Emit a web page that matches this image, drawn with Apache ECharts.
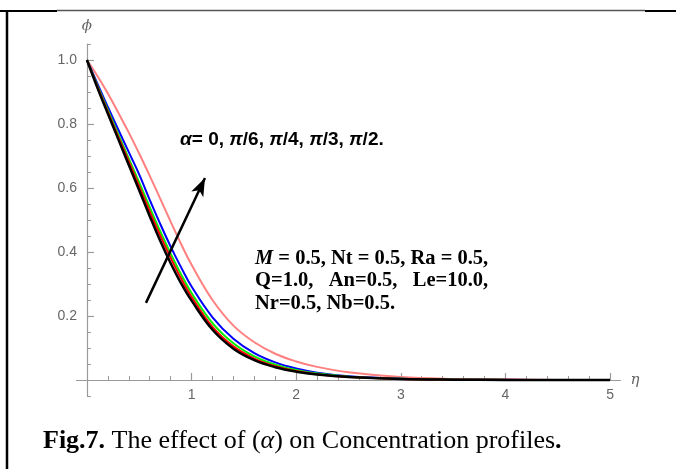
<!DOCTYPE html>
<html>
<head>
<meta charset="utf-8">
<script src="https://cdn.jsdelivr.net/npm/echarts@6/dist/echarts.min.js"></script>
<style>
  html, body { margin: 0; padding: 0; background: #fff; }
  #chart { width: 676px; height: 469px; }
</style>
</head>
<body>
<div id="chart"></div>
<script>
// Similarity variable eta and concentration profiles phi(eta) for each inclination alpha
const eta = [0, 0.1, 0.2, 0.3, 0.4, 0.5, 0.6, 0.7, 0.8, 0.9, 1.0, 1.2, 1.4, 1.6, 1.8, 2.0, 2.2, 2.5, 3.0, 3.5, 4.0, 4.5, 5.0];
const phiAlpha0   = [1.0, 0.913, 0.832, 0.752, 0.672, 0.592, 0.512, 0.435, 0.365, 0.302, 0.248, 0.157, 0.098, 0.062, 0.04, 0.026, 0.017, 0.009, 0.003, 0.001, 0.0003, 0.0001, 0];
const phiAlphaPi6 = [1.0, 0.917, 0.838, 0.76, 0.683, 0.605, 0.527, 0.452, 0.382, 0.317, 0.26, 0.166, 0.105, 0.067, 0.043, 0.028, 0.018, 0.0095, 0.0033, 0.0011, 0.0004, 0.0001, 0];
const phiAlphaPi4 = [1.0, 0.92, 0.843, 0.767, 0.692, 0.617, 0.54, 0.465, 0.395, 0.33, 0.272, 0.178, 0.115, 0.074, 0.048, 0.031, 0.02, 0.0105, 0.0036, 0.0012, 0.0004, 0.0001, 0];
const phiAlphaPi3 = [1.0, 0.926, 0.853, 0.782, 0.712, 0.642, 0.563, 0.488, 0.417, 0.352, 0.292, 0.196, 0.129, 0.084, 0.055, 0.036, 0.023, 0.012, 0.0042, 0.0014, 0.0005, 0.0001, 0];
const phiAlphaPi2 = [1.0, 0.95, 0.895, 0.835, 0.773, 0.707, 0.638, 0.567, 0.495, 0.425, 0.36, 0.25, 0.17, 0.118, 0.082, 0.058, 0.041, 0.024, 0.009, 0.003, 0.001, 0.0003, 0];

// Tick values
const xMajorTicks = [1, 2, 3, 4, 5];
const xMinorTicks = [0.2, 0.4, 0.6, 0.8, 1.2, 1.4, 1.6, 1.8, 2.2, 2.4, 2.6, 2.8, 3.2, 3.4, 3.6, 3.8, 4.2, 4.4, 4.6, 4.8];
const yMajorTicks = [0.2, 0.4, 0.6, 0.8, 1.0];
const yMinorTicks = [-0.05, 0.05, 0.1, 0.15, 0.25, 0.3, 0.35, 0.45, 0.5, 0.55, 0.65, 0.7, 0.75, 0.85, 0.9, 0.95, 1.05];

// Arrow showing the direction of increasing alpha (eta, phi)
const arrowFrom = [0.564, 0.241];
const arrowTo = [1.128, 0.631];

const profiles = [
  { name: 'α = π/2', data: phiAlphaPi2, color: '#ff8080', width: 2 },
  { name: 'α = π/3', data: phiAlphaPi3, color: '#0000ff', width: 2 },
  { name: 'α = π/4', data: phiAlphaPi4, color: '#00f000', width: 2 },
  { name: 'α = π/6', data: phiAlphaPi6, color: '#ff0000', width: 2 },
  { name: 'α = 0',   data: phiAlpha0,   color: '#000000', width: 2.5 }
];

const axisGray = '#9a9a9a';
const labelGray = '#666';

const chart = echarts.init(document.getElementById('chart'), null, { renderer: 'canvas' });

const series = profiles.map(p => ({
  name: p.name,
  type: 'line',
  xAxisIndex: 0,
  yAxisIndex: 0,
  smooth: 0.4,
  showSymbol: false,
  symbol: 'none',
  lineStyle: { color: p.color, width: p.width },
  data: eta.map((e, i) => [e, p.data[i]]),
  z: 3
}));

series.push({
  type: 'line',
  xAxisIndex: 0,
  yAxisIndex: 0,
  data: [],
  markLine: {
    silent: true,
    animation: false,
    label: { show: false },
    lineStyle: { color: '#000', width: 2.5, type: 'solid' },
    symbolSize: [10, 18],
    data: [[
      { coord: arrowFrom, symbol: 'none' },
      { coord: arrowTo, symbol: 'arrow' }
    ]]
  }
});

chart.setOption({
  animation: false,
  backgroundColor: '#fff',
  grid: { left: 76.5, right: 55.5, top: 44, bottom: 73, containLabel: false },
  xAxis: [
    {
      type: 'value', min: -0.1, max: 5.1, position: 'bottom',
      name: 'η', nameLocation: 'end', nameGap: 10,
      nameTextStyle: { color: labelGray, fontStyle: 'italic', fontSize: 15, fontFamily: 'DejaVu Serif' },
      axisLine: { onZero: true, onZeroAxisIndex: 0, lineStyle: { color: axisGray, width: 1.2 } },
      axisTick: { inside: true, length: 7, customValues: xMajorTicks, lineStyle: { color: axisGray, width: 1.2 } },
      axisLabel: { customValues: xMajorTicks, margin: -8, color: labelGray, fontSize: 14, fontFamily: 'Liberation Sans' },
      splitLine: { show: false }
    },
    {
      type: 'value', min: -0.1, max: 5.1, position: 'bottom',
      axisLine: { show: false, onZero: true, onZeroAxisIndex: 0 },
      axisTick: { inside: true, length: 4, customValues: xMinorTicks, lineStyle: { color: axisGray, width: 1 } },
      axisLabel: { show: false },
      splitLine: { show: false }
    }
  ],
  yAxis: [
    {
      type: 'value', min: -0.05, max: 1.05, position: 'left',
      name: 'ϕ', nameLocation: 'end', nameGap: 10,
      nameTextStyle: { color: labelGray, fontStyle: 'italic', fontSize: 15, fontFamily: 'DejaVu Serif' },
      axisLine: { onZero: true, onZeroAxisIndex: 0, lineStyle: { color: axisGray, width: 1.2 } },
      axisTick: { inside: true, length: 7, customValues: yMajorTicks, lineStyle: { color: axisGray, width: 1.2 } },
      axisLabel: { customValues: yMajorTicks, margin: -0.5, color: labelGray, fontSize: 14, fontFamily: 'Liberation Sans',
                   formatter: v => v.toFixed(1) },
      splitLine: { show: false }
    },
    {
      type: 'value', min: -0.05, max: 1.05, position: 'left',
      axisLine: { show: false, onZero: true, onZeroAxisIndex: 0 },
      axisTick: { inside: true, length: 4, customValues: yMinorTicks, lineStyle: { color: axisGray, width: 1 } },
      axisLabel: { show: false },
      splitLine: { show: false }
    }
  ],
  series: series,
  graphic: [
    // frame lines
    { type: 'line', shape: { x1: 0, y1: 11, x2: 57, y2: 11 }, style: { stroke: '#000', lineWidth: 2 } },
    { type: 'line', shape: { x1: 57, y1: 10.5, x2: 645, y2: 10.5 }, style: { stroke: '#555', lineWidth: 1.3 } },
    { type: 'line', shape: { x1: 645, y1: 11, x2: 676, y2: 11 }, style: { stroke: '#000', lineWidth: 2 } },
    { type: 'line', shape: { x1: 7, y1: 10, x2: 7, y2: 469 }, style: { stroke: '#000', lineWidth: 2.5 } },
    // alpha values
    {
      type: 'text', left: 180, top: 130,
      style: {
        text: '{g|α}= 0, {g|π}/6, {g|π}/4, {g|π}/3, {g|π}/2.',
        fill: '#000', font: 'bold 19px "Liberation Sans", Arial, sans-serif',
        rich: { g: { fontStyle: 'italic', fontWeight: 'bold', fontSize: 19, fontFamily: 'Liberation Sans' } }
      }
    },
    // governing parameters
    {
      type: 'text', left: 255, top: 247,
      style: {
        text: '{i|M} = 0.5, Nt = 0.5, Ra = 0.5,\nQ=1.0,   An=0.5,   Le=10.0,\nNr=0.5, Nb=0.5.',
        fill: '#000', font: 'bold 20.5px "Liberation Serif", "Times New Roman", serif',
        lineHeight: 22.5,
        rich: { i: { fontStyle: 'italic', fontWeight: 'bold', fontSize: 20.5, fontFamily: 'Liberation Serif', lineHeight: 22.5 } }
      }
    },
    // figure caption
    {
      type: 'text', left: 43, top: 428,
      style: {
        text: '{b|Fig.7.} The effect of ({i|α}) on Concentration profiles{b|.}',
        fill: '#000', font: '26px "Liberation Serif", "Times New Roman", serif',
        rich: {
          b: { fontWeight: 'bold', fontSize: 26, fontFamily: 'Liberation Serif' },
          i: { fontStyle: 'italic', fontSize: 26, fontFamily: 'Liberation Serif' }
        }
      }
    }
  ]
});
</script>
</body>
</html>
